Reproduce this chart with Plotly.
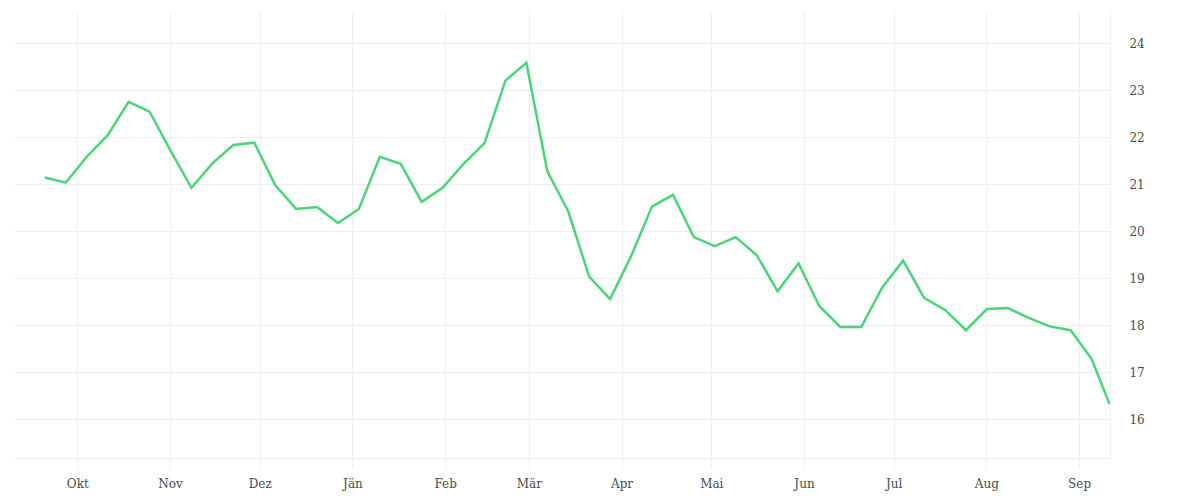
import plotly.graph_objects as go
import pandas as pd

dates = list(pd.date_range("2022-09-20", periods=51, freq="7D").strftime("%Y-%m-%d")) + ["2023-09-11"]
values = [
    21.16, 21.05, 21.60, 22.06, 22.77, 22.56, 21.73, 20.94, 21.46, 21.85,
    21.90, 21.00, 20.49, 20.53, 20.19, 20.49, 21.60, 21.45, 20.64, 20.94,
    21.45, 21.89, 23.22, 23.60, 21.29, 20.44, 19.05, 18.57, 19.48, 20.54,
    20.79, 19.89, 19.70, 19.89, 19.51, 18.74, 19.33, 18.42, 17.98, 17.98,
    18.82, 19.39, 18.60, 18.34, 17.91, 18.36, 18.38, 18.17, 17.99, 17.91,
    17.30, 16.34,
]
month_ticks = ["2022-10-01", "2022-11-01", "2022-12-01", "2023-01-01", "2023-02-01",
               "2023-03-01", "2023-04-01", "2023-05-01", "2023-06-01", "2023-07-01",
               "2023-08-01", "2023-09-01"]
month_labels = ["Okt", "Nov", "Dez", "Jän", "Feb", "Mär", "Apr", "Mai", "Jun", "Jul", "Aug", "Sep"]
y_ticks = [16, 17, 18, 19, 20, 21, 22, 23, 24]

fig = go.Figure()
fig.add_trace(go.Scatter(
    x=dates, y=values, mode="lines",
    line=dict(color="#4cd47b", width=2.5),
    hoverinfo="x+y", showlegend=False,
))

fig.update_layout(
    width=1200, height=500,
    margin=dict(l=7, r=98, t=4, b=50),
    paper_bgcolor="white", plot_bgcolor="white",
    font=dict(family="DejaVu Serif", size=12, color="#4a4a4a"),
    xaxis=dict(
        type="date",
        range=["2022-09-10", "2023-09-11 04:00"],
        tickvals=month_ticks, ticktext=month_labels,
        showgrid=True, gridcolor="#eeeeee", gridwidth=1,
        showline=True, linecolor="#eeeeee", linewidth=1,
        ticks="outside", ticklen=10, tickcolor="#eeeeee",
        ticklabelstandoff=5,
        zeroline=False,
    ),
    yaxis=dict(
        side="right",
        range=[15.19, 24.68],
        tickvals=y_ticks,
        showgrid=True, gridcolor="#eeeeee", gridwidth=1,
        showline=True, linecolor="#eeeeee", linewidth=1,
        ticks="", ticklabelstandoff=16,
        zeroline=False,
    ),
)

fig.write_html("out.html")
